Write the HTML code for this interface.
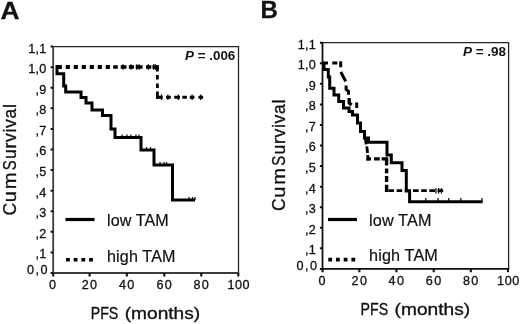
<!DOCTYPE html>
<html><head><meta charset="utf-8">
<style>
html,body{margin:0;padding:0;background:#fff;}
body{width:520px;height:324px;overflow:hidden;}
svg{display:block;filter:grayscale(1);font-family:"Liberation Sans",sans-serif;}
</style></head>
<body>
<svg width="520" height="324" viewBox="0 0 520 324">
<rect x="0" y="0" width="520" height="324" fill="#ffffff"/>

<!-- ================= PANEL A ================= -->
<g id="pa">
<text transform="translate(0.5,19.2) scale(1.07,1)" font-size="24.6" font-weight="bold" fill="#111" stroke="#111" stroke-width="0.3">A</text>
<path d="M53.2,46.62H238.5V273.00" fill="none" stroke="#262626" stroke-width="1.3"/>
<path d="M53.2,46.02V273.00H239.1" fill="none" stroke="#3c3c3c" stroke-width="1.8"/>
<path d="M50.6,273.00H53.2 M50.6,252.42H53.2 M50.6,231.84H53.2 M50.6,211.26H53.2 M50.6,190.68H53.2 M50.6,170.10H53.2 M50.6,149.52H53.2 M50.6,128.94H53.2 M50.6,108.36H53.2 M50.6,87.78H53.2 M50.6,67.20H53.2 M50.6,46.62H53.2" stroke="#111" stroke-width="2" fill="none"/>
<path d="M53.2,273.00V276.40 M89.6,273.00V276.40 M126.8,273.00V276.40 M164.3,273.00V276.40 M201.3,273.00V276.40 M238.3,273.00V276.40" stroke="#111" stroke-width="2.1" fill="none"/>
<g font-size="12.6" fill="#111" stroke="#111" stroke-width="0.3" text-anchor="end" letter-spacing="0.3">
<text x="49.0" y="274.3" letter-spacing="1.5">0,0</text>
<text x="46.6" y="258.3">,1</text>
<text x="46.6" y="237.7">,2</text>
<text x="46.6" y="217.2">,3</text>
<text x="46.6" y="196.6">,4</text>
<text x="46.6" y="176.0">,5</text>
<text x="46.6" y="155.4">,6</text>
<text x="46.6" y="134.8">,7</text>
<text x="46.6" y="114.3">,8</text>
<text x="46.6" y="93.7">,9</text>
<text x="46.6" y="73.1">1,0</text>
<text x="46.6" y="52.5">1,1</text>
</g>
<g font-size="12.6" fill="#111" stroke="#111" stroke-width="0.3" text-anchor="middle" letter-spacing="1.4">
<text x="53.2" y="289.2">0</text>
<text x="90.1" y="289.2">20</text>
<text x="127.3" y="289.2">40</text>
<text x="164.8" y="289.2">60</text>
<text x="201.8" y="289.2">80</text>
<text x="238.8" y="289.2" letter-spacing="0.6">100</text>
</g>
<text x="90.7" y="319" font-size="16.2" textLength="27.6" lengthAdjust="spacingAndGlyphs" fill="#111" stroke="#111" stroke-width="0.32">PFS</text>
<text x="124.7" y="319" font-size="16.2" textLength="75.5" lengthAdjust="spacingAndGlyphs" fill="#111" stroke="#111" stroke-width="0.32">(months)</text>
<text transform="translate(15.6,215.5) rotate(-90)" font-size="17.5" fill="#111" stroke="#111" stroke-width="0.32">C</text>
<text transform="translate(15.6,202.2) rotate(-90) scale(1.15,1)" font-size="17.5" letter-spacing="1.5" fill="#111" stroke="#111" stroke-width="0.32">um</text>
<text transform="translate(15.6,170.2) rotate(-90) scale(0.85,1)" font-size="17.5" fill="#111" stroke="#111" stroke-width="0.32">S</text>
<text transform="translate(15.6,103.4) rotate(-90)" font-size="17.5" letter-spacing="0.7" fill="#111" stroke="#111" stroke-width="0.32" text-anchor="end">urvival</text>
<text x="235.3" y="60.4" font-size="13.4" font-weight="bold" fill="#111" text-anchor="end"><tspan font-style="italic">P</tspan> = .006</text>
<!-- high TAM (dashed) -->
<path d="M57.7,67H112" fill="none" stroke="#000" stroke-width="4" stroke-dasharray="4.2 3.8"/>
<path d="M113.2,67H117.8M120.7,67H126.5M128.8,67H134M135.7,67H142.6M146,67H151.3M152.4,67H158.8" fill="none" stroke="#000" stroke-width="3.3"/>
<path d="M123,64.2v5.6M131,64.2v5.6M136.8,64.2v5.6M139.1,64.2v5.6M148.4,64.2v5.6M153.6,64.2v5.6M155.4,64.2v5.6" fill="none" stroke="#000" stroke-width="1.2"/>
<path d="M157.4,65.4V71.5M157.4,75V79.6M157.4,83.5V88.1M157.4,91.5V98.8" fill="none" stroke="#000" stroke-width="2.8"/>
<path d="M156,97.3H162.7M166.1,97.3H170.8M174.2,97.3H180M182.3,97.3H186.9M189.8,97.3H194.4M198.4,97.3H203.1" fill="none" stroke="#000" stroke-width="3"/>
<path d="M161.5,94.5v5.6M167.9,94.5v5.6M178.3,94.5v5.6M192.1,94.5v5.6M200.7,94.5v5.6" fill="none" stroke="#000" stroke-width="1.2"/>
<!-- low TAM (solid) -->
<path d="M57,65V73.7H63.7V86H65.7V92H81V97.5H86V103H92V110H102.5V115.5H111V129H115V137.5H141V150H154V165H172.5V200H195" fill="none" stroke="#000" stroke-width="3" stroke-linejoin="miter"/>
<path d="M122,134.5v3M127,134.5v3M131,134.5v3M136,134.5v3M139,134.5v3M146.5,147v3M150.5,147v3M160,162v3M164,162v3M166.5,162v3M189,197v3M192.5,197v3M195,197v3" stroke="#000" stroke-width="1.2" fill="none"/>
<!-- legend -->
<path d="M65.5,219.5H94.5" stroke="#000" stroke-width="3.2"/>
<path d="M66,259.8H94" stroke="#000" stroke-width="3.6" stroke-dasharray="3.8 3.9"/>
<text x="107" y="225.8" font-size="16.1" letter-spacing="0.1" fill="#111" stroke="#111" stroke-width="0.2">low TAM</text>
<text x="107" y="261.6" font-size="16.1" letter-spacing="0.15" fill="#111" stroke="#111" stroke-width="0.2">high TAM</text>
</g>

<!-- ================= PANEL B ================= -->
<g id="pb">
<text transform="translate(260.4,18.1) scale(0.97,1)" font-size="24.8" font-weight="bold" fill="#111" stroke="#111" stroke-width="0.3">B</text>
<path d="M322.5,42.68H508.6V268.90" fill="none" stroke="#262626" stroke-width="1.3"/>
<path d="M322.5,42.08V268.90H509.20000000000005" fill="none" stroke="#111" stroke-width="1.8"/>
<path d="M319.9,268.90H322.5 M319.9,248.33H322.5 M319.9,227.77H322.5 M319.9,207.20H322.5 M319.9,186.64H322.5 M319.9,166.07H322.5 M319.9,145.51H322.5 M319.9,124.94H322.5 M319.9,104.38H322.5 M319.9,83.81H322.5 M319.9,63.25H322.5 M319.9,42.68H322.5" stroke="#111" stroke-width="2" fill="none"/>
<path d="M322.6,268.90V272.30 M359.4,268.90V272.30 M396.4,268.90V272.30 M433.7,268.90V272.30 M470.8,268.90V272.30 M508.0,268.90V272.30" stroke="#111" stroke-width="2.1" fill="none"/>
<g font-size="12.6" fill="#111" stroke="#111" stroke-width="0.3" text-anchor="end" letter-spacing="0.3">
<text x="318.5" y="270.2" letter-spacing="1.5">0,0</text>
<text x="316.1" y="254.2">,1</text>
<text x="316.1" y="233.7">,2</text>
<text x="316.1" y="213.1">,3</text>
<text x="316.1" y="192.5">,4</text>
<text x="316.1" y="172.0">,5</text>
<text x="316.1" y="151.4">,6</text>
<text x="316.1" y="130.8">,7</text>
<text x="316.1" y="110.3">,8</text>
<text x="316.1" y="89.7">,9</text>
<text x="316.1" y="69.1">1,0</text>
<text x="316.1" y="48.6">1,1</text>
</g>
<g font-size="12.6" fill="#111" stroke="#111" stroke-width="0.3" text-anchor="middle" letter-spacing="1.4">
<text x="322.6" y="285.3">0</text>
<text x="359.9" y="285.3">20</text>
<text x="396.9" y="285.3">40</text>
<text x="434.2" y="285.3">60</text>
<text x="471.3" y="285.3">80</text>
<text x="508.5" y="285.3" letter-spacing="0.6">100</text>
</g>
<text x="360.6" y="315.2" font-size="16.2" textLength="27.6" lengthAdjust="spacingAndGlyphs" fill="#111" stroke="#111" stroke-width="0.32">PFS</text>
<text x="394.6" y="315.2" font-size="16.2" textLength="75.5" lengthAdjust="spacingAndGlyphs" fill="#111" stroke="#111" stroke-width="0.32">(months)</text>
<text transform="translate(284.9,211.0) rotate(-90)" font-size="17.5" fill="#111" stroke="#111" stroke-width="0.32">C</text>
<text transform="translate(284.9,197.7) rotate(-90) scale(1.15,1)" font-size="17.5" letter-spacing="1.5" fill="#111" stroke="#111" stroke-width="0.32">um</text>
<text transform="translate(284.9,165.7) rotate(-90) scale(0.85,1)" font-size="17.5" fill="#111" stroke="#111" stroke-width="0.32">S</text>
<text transform="translate(284.9,98.9) rotate(-90)" font-size="17.5" letter-spacing="0.7" fill="#111" stroke="#111" stroke-width="0.32" text-anchor="end">urvival</text>
<text x="506.1" y="56" font-size="13.5" font-weight="bold" fill="#111" text-anchor="end"><tspan font-style="italic">P</tspan> = .98</text>
<!-- high TAM (dashed) -->
<path d="M323,63H328M332.3,63H337.3" fill="none" stroke="#000" stroke-width="3.2"/>
<path d="M340.7,61.3V67.2M340.8,72L345.7,81.4M346.1,85.5V89.4L348.5,91.2V94.7M356.7,102.4V108" fill="none" stroke="#000" stroke-width="3"/>
<path d="M349.2,98V103L351.6,105" fill="none" stroke="#000" stroke-width="3.3"/>
<path d="M365.3,137.7L366.2,144.4M366.8,146.3L367.6,153M367.8,155V160.5" fill="none" stroke="#000" stroke-width="2.8"/>
<path d="M366.4,158.8H371M374,158.8H379.8M381.7,158.8H388.2" fill="none" stroke="#000" stroke-width="3.3"/>
<path d="M386.6,158.8V165.6M386.6,168.5V173.3M386.6,176V182M386.6,184.8V192" fill="none" stroke="#000" stroke-width="3.4"/>
<path d="M388.4,190.7H443.5" fill="none" stroke="#000" stroke-width="2.7" stroke-dasharray="5.6 2.6"/>
<path d="M436,188v5.4M438.6,188v5.4M441.4,188v5.4" stroke="#000" stroke-width="1.2" fill="none"/>
<!-- low TAM (solid) -->
<path d="M324,62V69.5H328.3V77H329.7V88.3H334V95H338.7V101.5H343.5V108H349V111.5H352.5V115H357.5V123H360.5V131.5H364.5V138H368.5V142.3H387V155H391.3V162.7H402V170.4H406.3V191H409.6V201.8H482.6" fill="none" stroke="#000" stroke-width="3"/>
<path d="M425.8,198v4M438,198v4M448.7,198v4M460.9,198v4M481.9,198v4" stroke="#000" stroke-width="1.2" fill="none"/>
<!-- legend -->
<path d="M328,219.5H357" stroke="#000" stroke-width="3.2"/>
<path d="M328.3,259.6H356" stroke="#000" stroke-width="3.6" stroke-dasharray="3.8 3.9"/>
<text x="369" y="225.5" font-size="16.2" letter-spacing="0.15" fill="#111" stroke="#111" stroke-width="0.2">low TAM</text>
<text x="369" y="261.3" font-size="16.2" letter-spacing="0.15" fill="#111" stroke="#111" stroke-width="0.2">high TAM</text>
</g>
</svg>
</body></html>
